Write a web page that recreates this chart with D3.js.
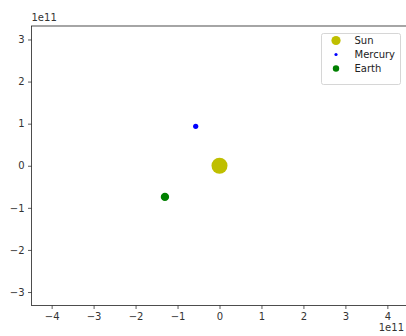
<!DOCTYPE html>
<html>
<head>
<meta charset="utf-8">
<script src="https://cdn.jsdelivr.net/npm/d3@7"></script>
<style>
  html, body { margin: 0; padding: 0; background: #fff; }
  svg { display: block; }
  text { font-family: "DejaVu Sans", sans-serif; }
</style>
</head>
<body>
<svg id="chart" width="406" height="336"></svg>
<script>
// Body positions (metres) at one snapshot of the simulation
const bodies = ["Sun", "Mercury", "Earth"];
const xPos = [0, -0.567e11, -1.30e11];
const yPos = [0, 0.936e11, -0.74e11];
const colors = ["#bfbf00", "#0000ff", "#008000"];
const markerRadius = [8, 2.6, 4.2];
const legendRadius = [4.6, 1.6, 3.2];

// Tick values, in units of 1e11
const xTicks = [-4, -3, -2, -1, 0, 1, 2, 3, 4];
const yTicks = [-3, -2, -1, 0, 1, 2, 3];

const svg = d3.select("#chart");
const plot = { left: 31.5, right: 407.5, top: 26, bottom: 305.5 };

const x = d3.scaleLinear().domain([-4.48e11, 4.48e11]).range([plot.left, plot.right]);
const y = d3.scaleLinear().domain([-3.32e11, 3.32e11]).range([plot.bottom, plot.top]);

const fmt = v => d3.format("d")(Math.round(v / 1e11)).replace("-", "\u2212");

// Axes
const xAxis = d3.axisBottom(x)
  .tickValues(xTicks.map(v => v * 1e11))
  .tickFormat(fmt)
  .tickSize(3.5).tickPadding(3.5);
const yAxis = d3.axisLeft(y)
  .tickValues(yTicks.map(v => v * 1e11))
  .tickFormat(fmt)
  .tickSize(3.5).tickPadding(3.5);

const gx = svg.append("g").attr("transform", `translate(0,${plot.bottom})`).call(xAxis);
const gy = svg.append("g").attr("transform", `translate(${plot.left},0)`).call(yAxis);
[gx, gy].forEach(g => {
  g.select(".domain").remove();
  g.selectAll(".tick line").attr("stroke", "#333").attr("stroke-width", 0.8);
  g.selectAll(".tick text").attr("font-size", 10).attr("fill", "#333")
    .attr("font-family", "DejaVu Sans, sans-serif");
});

// Frame
svg.append("rect")
  .attr("x", plot.left).attr("y", plot.top)
  .attr("width", plot.right - plot.left).attr("height", plot.bottom - plot.top)
  .attr("fill", "none").attr("stroke", "#222").attr("stroke-width", 0.8);

// Offset labels
svg.append("text").attr("x", plot.left).attr("y", 21).attr("font-size", 10)
  .attr("fill", "#333").text("1e11");
svg.append("text").attr("x", 404).attr("y", 331).attr("font-size", 10)
  .attr("text-anchor", "end").attr("fill", "#333").text("1e11");

// Bodies
svg.append("g").selectAll("circle")
  .data(bodies)
  .join("circle")
  .attr("cx", (d, i) => x(xPos[i]))
  .attr("cy", (d, i) => y(yPos[i]))
  .attr("r", (d, i) => markerRadius[i])
  .attr("fill", (d, i) => colors[i]);

// Legend
const lg = svg.append("g").attr("transform", "translate(321.5,33.5)");
lg.append("rect").attr("width", 79).attr("height", 51).attr("rx", 2)
  .attr("fill", "#fff").attr("fill-opacity", 0.8)
  .attr("stroke", "#ccc").attr("stroke-width", 0.8);
const items = lg.selectAll("g.item").data(bodies).join("g")
  .attr("class", "item")
  .attr("transform", (d, i) => `translate(0,${7 + i * 14})`);
items.append("circle").attr("cx", 14.5)
  .attr("r", (d, i) => legendRadius[i])
  .attr("fill", (d, i) => colors[i]);
items.append("text").attr("x", 33).attr("dy", "0.35em")
  .attr("font-size", 10).attr("fill", "#222").text(d => d);
</script>
</body>
</html>
